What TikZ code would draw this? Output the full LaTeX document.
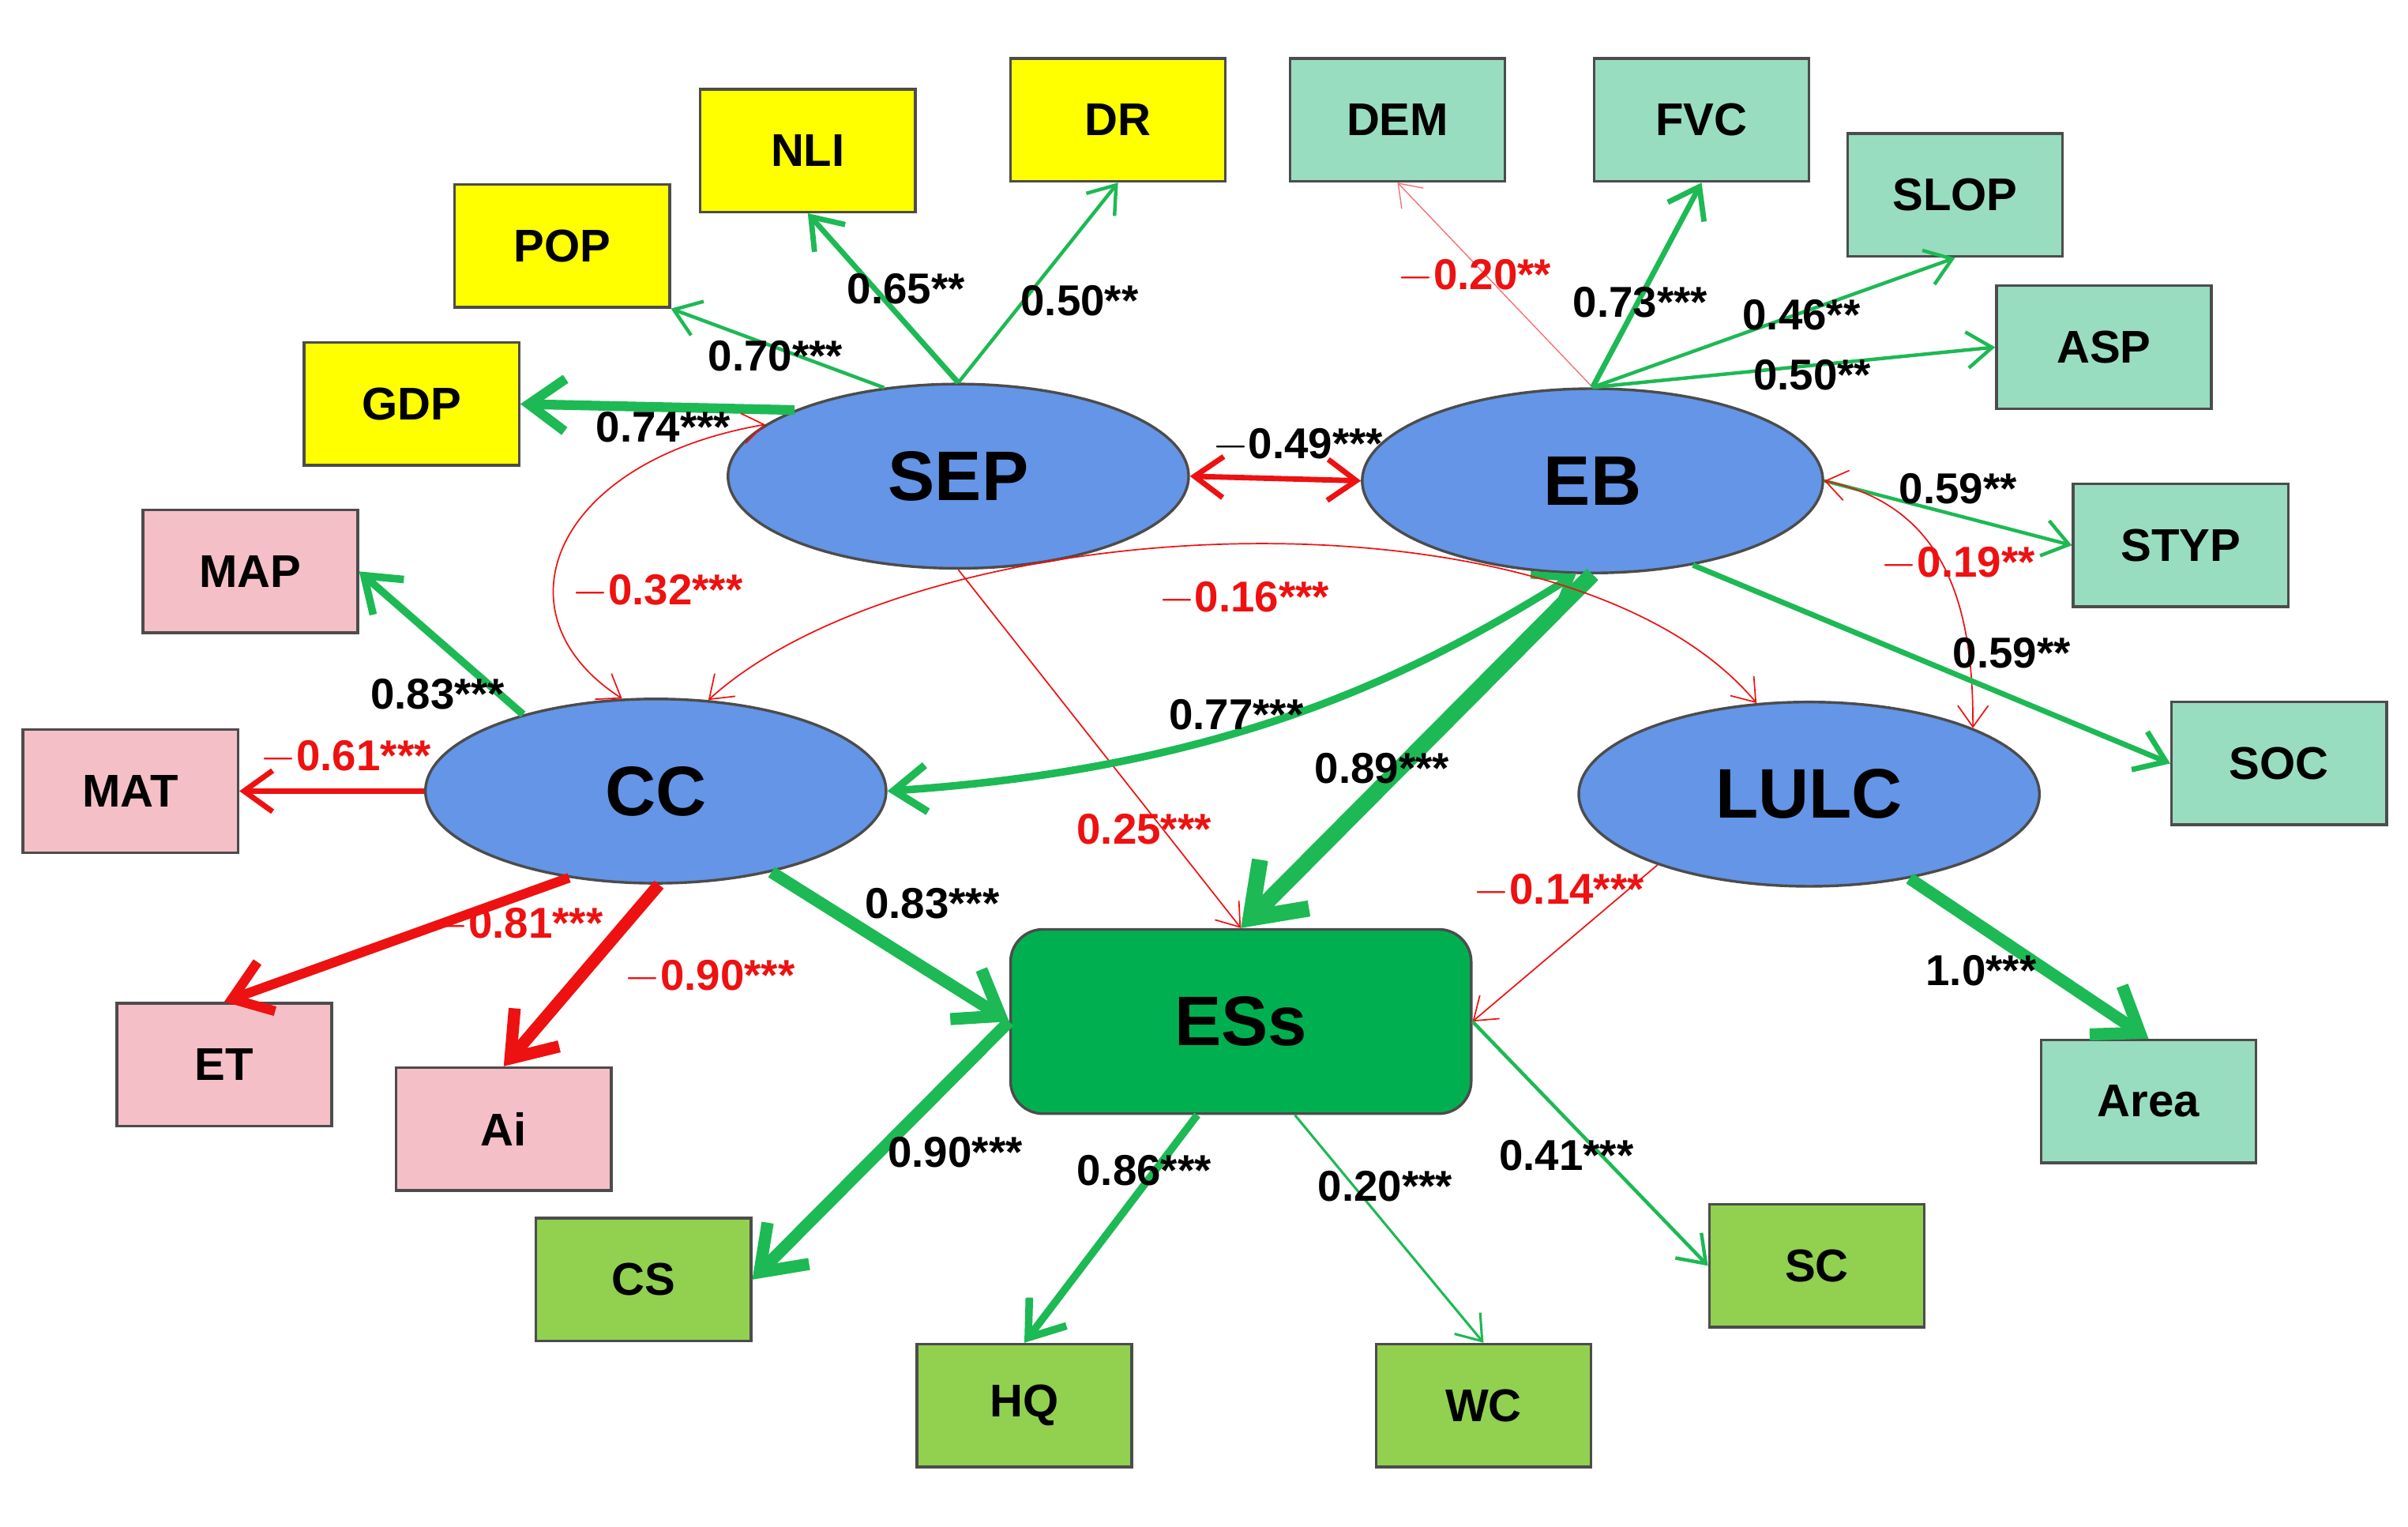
\documentclass[tikz,border=0pt]{standalone}
\usepackage{fontspec}
\setmainfont{Liberation Sans}
\usetikzlibrary{arrows.meta,shapes.geometric}
\definecolor{yel}{HTML}{FFFF00}
\definecolor{teal2}{HTML}{99DDC0}
\definecolor{pinkb}{HTML}{F5BFC8}
\definecolor{grnb}{HTML}{92D050}
\definecolor{essc}{HTML}{00B050}
\definecolor{ellc}{HTML}{6495E6}
\definecolor{ga}{HTML}{1DB954}
\definecolor{ra}{HTML}{EE1111}
\begin{document}
\begin{tikzpicture}[x=0.02cm,y=-0.02cm,
 box/.style={draw=black!70,line width=1pt,minimum width=2.8cm,minimum height=1.6cm,font=\fontsize{17}{20}\selectfont\bfseries},
 ell/.style={ellipse,draw=black!70,line width=1pt,fill=ellc,minimum width=6cm,minimum height=2.4cm,font=\fontsize{26}{30}\selectfont\bfseries},
 lab/.style={font=\fontsize{16}{19}\selectfont\bfseries},
 rl/.style={lab,text=ra},
 ar/.style={-{Straight Barb[length=7pt 1.8,width=10pt 2.6]}},
 dar/.style={{Straight Barb[length=7pt 1.8,width=10pt 2.6]}-{Straight Barb[length=7pt 1.8,width=10pt 2.6]}},
 g/.style={draw=ga},r/.style={draw=ra},
 w1/.style={line width=0.5pt},w2/.style={line width=1.3pt},w3/.style={line width=2pt},
 w4/.style={line width=2.8pt},w5/.style={line width=3.6pt},w6/.style={line width=4.5pt},w7/.style={line width=6pt}]
\useasboundingbox (0,0) rectangle (1568,994);
% boxes
\node[box,fill=yel] (DR) at (728,78) {DR};
\node[box,fill=yel] (NLI) at (526,98) {NLI};
\node[box,fill=yel] (POP) at (366,160) {POP};
\node[box,fill=yel] (GDP) at (268,263) {GDP};
\node[box,fill=teal2] (DEM) at (910,78) {DEM};
\node[box,fill=teal2] (FVC) at (1108,78) {FVC};
\node[box,fill=teal2] (SLOP) at (1273,127) {SLOP};
\node[box,fill=teal2] (ASP) at (1370,226) {ASP};
\node[box,fill=teal2] (STYP) at (1420,355) {STYP};
\node[box,fill=teal2] (SOC) at (1484,497) {SOC};
\node[box,fill=teal2] (Area) at (1399,717) {Area};
\node[box,fill=pinkb] (MAP) at (163,372) {MAP};
\node[box,fill=pinkb] (MAT) at (85,515) {MAT};
\node[box,fill=pinkb] (ET) at (146,693) {ET};
\node[box,fill=pinkb] (Ai) at (328,735) {Ai};
\node[box,fill=grnb] (CS) at (419,833) {CS};
\node[box,fill=grnb] (HQ) at (667,915) {HQ};
\node[box,fill=grnb] (WC) at (966,915) {WC};
\node[box,fill=grnb] (SC) at (1183,824) {SC};
% latent
\node[ell] (SEP) at (624,310) {SEP};
\node[ell] (EB) at (1037,313) {EB};
\node[ell] (CC) at (427,515) {CC};
\node[ell] (LULC) at (1178,517) {LULC};
\node[draw=black!70,line width=1pt,fill=essc,rounded corners=12pt,minimum width=6cm,minimum height=2.4cm,font=\fontsize{26}{30}\selectfont\bfseries] (ESs) at (808,665) {ESs};
% SEP arrows
\draw[ar,g,w3] (SEP.north) -- (NLI.south);
\draw[ar,g,w2] (SEP.north) -- (DR.south);
\draw[ar,g,w2] (SEP.130) -- (POP.south east);
\draw[ar,g,w5] (SEP.158) -- (GDP.east);
\draw[dar,r,w3] (SEP.east) -- (EB.west);
\draw[dar,r,w1] (SEP.165) .. controls (360,300) and (320,400) .. (CC.110);
\draw[ar,r,w1] (SEP.south) -- (ESs.north);
% EB arrows
\draw[ar,draw=ra!60,line width=0.4pt] (EB.north) -- (DEM.south);
\draw[ar,g,w3] (EB.north) -- (FVC.south);
\draw[ar,g,w2] (EB.north) -- (SLOP.south);
\draw[ar,g,w2] (EB.north) -- (ASP.west);
\draw[ar,g,w2] (EB.east) -- (STYP.west);
\draw[dar,r,w1] (EB.east) .. controls (1270,330) and (1285,400) .. (LULC.north east);
\draw[ar,g,w3] (EB.-40) -- (SOC.west);
\draw[ar,g,w7] (EB.south) -- (ESs.north);
\draw[dar,g,w4] (EB.-100) .. controls (920,440) and (800,500) .. (CC.east);
\draw[dar,r,w1] (CC.60) .. controls (600,330) and (1020,310) .. (LULC.120);
% CC arrows
\draw[ar,g,w4] (CC.150) -- (MAP.east);
\draw[ar,r,w3] (CC.west) -- (MAT.east);
\draw[ar,r,w5] (CC.225) -- (ET.north);
\draw[ar,r,w6] (CC.-88) -- (Ai.north);
\draw[ar,g,w6] (CC.-35) -- (ESs.west);
% LULC
\draw[ar,r,w1] (LULC.205) -- (ESs.east);
\draw[ar,g,w6] (LULC.-40) -- (Area.north);
% ESs out
\draw[ar,g,w6] (ESs.west) -- (CS.east);
\draw[ar,g,w4] (ESs.-115) -- (HQ.north);
\draw[ar,g,line width=0.9pt] (ESs.-60) -- (WC.north);
\draw[ar,g,w2] (ESs.east) -- (SC.west);
% labels
\node[lab] at (590,188) {0.65**};
\node[lab] at (703,196) {0.50**};
\node[lab] at (505,232) {0.70***};
\node[lab] at (432,278) {0.74***};
\node[lab] at (845,290) {$-$0.49***};
\node[rl] at (428,385) {$-$0.32***};
\node[rl] at (960,180) {$-$0.20**};
\node[lab] at (1068,197) {0.73***};
\node[lab] at (1173,205) {0.46**};
\node[lab] at (1180,244) {0.50**};
\node[lab] at (1275,318) {0.59**};
\node[rl] at (1275,367) {$-$0.19**};
\node[lab] at (1310,425) {0.59**};
\node[lab] at (900,500) {0.89***};
\node[lab] at (805,465) {0.77***};
\node[rl] at (810,390) {$-$0.16***};
\node[rl] at (745,540) {0.25***};
\node[lab] at (285,452) {0.83***};
\node[rl] at (225,493) {$-$0.61***};
\node[rl] at (337,602) {$-$0.81***};
\node[rl] at (462,636) {$-$0.90***};
\node[lab] at (607,588) {0.83***};
\node[rl] at (1015,580) {$-$0.14***};
\node[lab] at (1290,632) {1.0***};
\node[lab] at (622,750) {0.90***};
\node[lab] at (745,762) {0.86***};
\node[lab] at (902,772) {0.20***};
\node[lab] at (1020,752) {0.41***};
\end{tikzpicture}
\end{document}
